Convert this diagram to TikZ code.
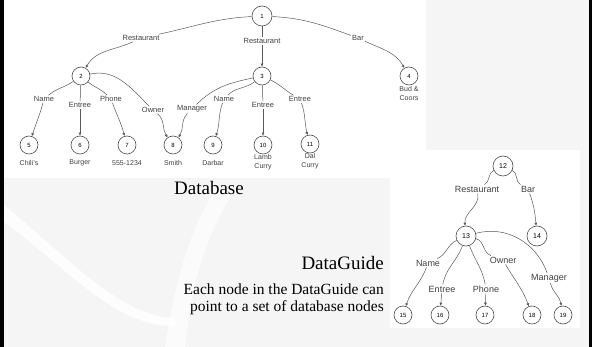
\documentclass[tikz,border=0pt]{standalone}
\usepackage{fontspec}
\setmainfont{Liberation Serif}
\setsansfont{Liberation Sans}
\usetikzlibrary{arrows.meta}
\begin{document}
\begin{tikzpicture}[x=1pt,y=-1pt,
  dbnode/.style={circle,draw=black!70,line width=0.6pt,minimum size=18pt,inner sep=0pt,fill=white,font=\sffamily\fontsize{6}{6}\selectfont},
  dgnode/.style={dbnode,minimum size=20pt,font=\sffamily\fontsize{7}{7}\selectfont},
  elab/.style={inner sep=1pt,font=\sffamily\fontsize{7.5}{8}\selectfont,text=black!75},
  dglab/.style={inner sep=1pt,font=\sffamily\fontsize{9}{9}\selectfont,text=black!75},
  vlab/.style={inner sep=0pt,align=center,font=\sffamily\fontsize{7}{9}\selectfont,text=black!75},
  edge/.style={draw=black!65,line width=0.5pt},
  arr/.style={edge,-{Latex[length=3pt,width=3pt]}},
  bigtext/.style={font=\fontsize{19}{19}\selectfont,inner sep=0pt},
  smalltext/.style={font=\fontsize{15.5}{17}\selectfont,inner sep=0pt}
]
\useasboundingbox (0,0) rectangle (592,347);
% background
\fill[black!4] (0,0) rectangle (592,347);
\fill[white,opacity=0.8] (4,205) .. controls (60,250) and (120,318) .. (175,318) -- (175,326) .. controls (115,328) and (60,262) .. (4,222) -- cycle;
\fill[white,opacity=0.6] (165,347) .. controls (175,280) and (190,230) .. (215,190) -- (235,190) .. controls (205,235) and (190,290) .. (185,347) -- cycle;
\fill[white] (4,0) rectangle (426,178);
\fill[white] (390,150) rectangle (580,328);
\fill[black] (0,0) rectangle (3.5,347);
\fill[black] (589,0) rectangle (592,347);

% ---------- Database ----------
\node[dbnode,minimum size=20pt] (n1) at (262,16) {1};
\node[dbnode] (n2) at (81,76) {2};
\node[dbnode] (n3) at (262,76) {3};
\node[dbnode] (n4) at (409,76) {4};
\node[vlab,anchor=north] (l4) at (409,86) {Bud \&\\Coors};

\node[dbnode] (n5) at (29,145) {5};
\node[dbnode] (n6) at (80,145) {6};
\node[dbnode] (n7) at (127,145) {7};
\node[dbnode] (n8) at (173,145) {8};
\node[dbnode] (n9) at (213,145) {9};
\node[dbnode] (n10) at (263,145) {10};
\node[dbnode] (n11) at (310,144) {11};

\node[vlab] (l5) at (29,163) {Chili's};
\node[vlab] (l6) at (80,163) {Burger};
\node[vlab] (l7) at (127,163) {555-1234};
\node[vlab] (l8) at (173,163) {Smith};
\node[vlab] (l9) at (213,163) {Darbar};
\node[vlab,anchor=north] (l10) at (263,154) {Lamb\\Curry};
\node[vlab,anchor=north] (l11) at (310,153) {Dal\\Curry};

\node[elab] (r1) at (141,38) {Restaurant};
\node[elab] (r2) at (262,41) {Restaurant};
\node[elab] (bar) at (358,38) {Bar};
\node[elab] (na1) at (44,99) {Name};
\node[elab] (en1) at (80,105) {Entree};
\node[elab] (ph1) at (111,99) {Phone};
\node[elab] (ow) at (153,110) {Owner};
\node[elab] (ma) at (192,109) {Manager};
\node[elab] (na2) at (224,99) {Name};
\node[elab] (en2) at (263,105) {Entree};
\node[elab] (en3) at (300,99) {Entree};

\draw[edge] (n1) to[out=183,in=12] (r1);
\draw[arr] (r1) to[out=205,in=60] (n2);
\draw[edge] (n1) to[out=-3,in=160] (bar);
\draw[arr] (bar) to[out=-25,in=120] (n4);
\draw[edge] (n1) -- (r2);
\draw[arr] (r2) -- (n3);

\draw[edge] (n2) to[out=215,in=40] (na1);
\draw[arr] (na1) to[out=-105,in=72] (n5);
\draw[edge] (n2) -- (en1);
\draw[arr] (en1) -- (n6);
\draw[edge] (n2) to[out=-40,in=135] (ph1);
\draw[arr] (ph1) to[out=-70,in=105] (n7);
\draw[edge] (n2) to[out=12,in=135] (ow);
\draw[arr] (ow) to[out=-40,in=125] (n8);
\draw[edge] (n3) to[out=192,in=45] (ma);
\draw[arr] (ma) to[out=-135,in=55] (n8);
\draw[edge] (n3) to[out=218,in=45] (na2);
\draw[arr] (na2) to[out=-110,in=72] (n9);
\draw[edge] (n3) -- (en2);
\draw[arr] (en2) -- (n10);
\draw[edge] (n3) to[out=-25,in=150] (en3);
\draw[arr] (en3) to[out=-70,in=105] (n11);

% ---------- DataGuide ----------
\node[dgnode] (n12) at (503,166) {12};
\node[dgnode] (n13) at (466,236) {13};
\node[dgnode] (n14) at (537,236) {14};
\node[dbnode] (n15) at (403,315) {15};
\node[dbnode] (n16) at (440,315) {16};
\node[dbnode] (n17) at (485,315) {17};
\node[dbnode] (n18) at (532,315) {18};
\node[dbnode] (n19) at (563,315) {19};

\node[dglab] (dr) at (477,189) {Restaurant};
\node[dglab] (db) at (528,189) {Bar};
\node[dglab] (dna) at (428,263) {Name};
\node[dglab] (den) at (442,289) {Entree};
\node[dglab] (dph) at (486,289) {Phone};
\node[dglab] (dow) at (503,260) {Owner};
\node[dglab] (dma) at (549,278) {Manager};

\draw[edge] (n12) to[out=205,in=30] (dr);
\draw[arr] (dr) to[out=-80,in=95] (n13);
\draw[edge] (n12) to[out=-25,in=150] (db);
\draw[arr] (db) to[out=-70,in=95] (n14);
\draw[edge] (n13) to[out=205,in=25] (dna);
\draw[arr] (dna) to[out=-110,in=72] (n15);
\draw[edge] (n13) to[out=-110,in=80] (den);
\draw[arr] (den) -- (n16);
\draw[edge] (n13) to[out=-70,in=100] (dph);
\draw[arr] (dph) -- (n17);
\draw[edge] (n13) to[out=-15,in=160] (dow);
\draw[arr] (dow) to[out=-60,in=110] (n18);
\draw[edge] (n13) to[out=15,in=110] (dma);
\draw[arr] (dma) to[out=-75,in=100] (n19);

% ---------- Texts ----------
\node[bigtext,anchor=base] (tdb) at (209,195) {Database};
\node[bigtext,anchor=base east] (tdg) at (384,270) {DataGuide};
\node[smalltext,anchor=base east] (t1) at (384,295) {Each node in the DataGuide can};
\node[smalltext,anchor=base east] (t2) at (384,312) {point to a set of database nodes};
\end{tikzpicture}
\end{document}
